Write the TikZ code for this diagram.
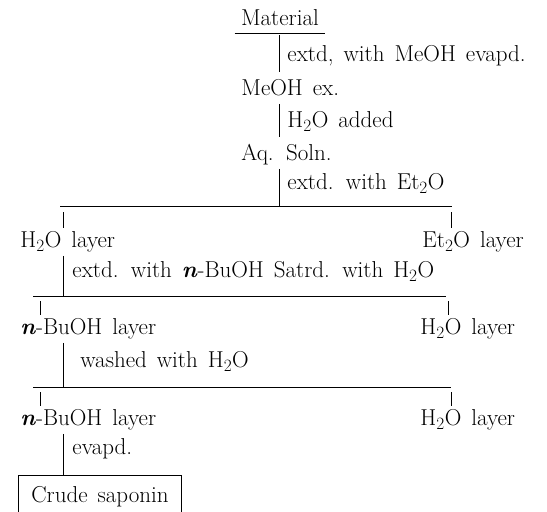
\documentclass[tikz,border=0pt]{standalone}
\usepackage{fontspec}
\newcommand\flowfont{\fontsize{23}{27}\selectfont\addfontfeature{LetterSpace=6,FakeBold=0.5}\spaceskip=10pt plus 2pt\relax}
\begin{document}
\begin{tikzpicture}[x=1pt,y=-1pt]
  \tikzset{
      every node/.append style = {
          font = \flowfont,
          text height = 15pt,
          text depth = 4pt,
          inner xsep = 0pt,
          inner ysep = 4pt
      },
      every path/.append style = {
          line width = 0.9pt
      },
      proc/.style = {
          anchor = west
      },
      layer/.style = {
          anchor = west
      }
  }
  \useasboundingbox (0,0) rectangle (547,512);
  % stems and bars
  \coordinate (sa) at (279,0);
  \coordinate (sb) at (63,0);
  \coordinate (sc) at (451,0);
  \coordinate (sd) at (40,0);
  \coordinate (se) at (448,0);
  \coordinate (bot) at (0,512);
  \coordinate (bar1l) at (60,206);
  \coordinate (bar1r) at (452,206);
  \coordinate (bar2l) at (33,296);
  \coordinate (bar2r) at (446,296);
  \coordinate (bar3l) at (33,387);
  \coordinate (bar3r) at (451,387);
  % texts
  \node[inner xsep = 6pt, inner ysep = 3.5pt] (mat) at (280,20) {Material};
  \node[proc] (p1) at (287,56) {extd, with MeOH evapd.};
  \node[layer] (meoh) at (241,90) {MeOH ex.};
  \node[proc] (p2) at (287,122) {H$_2$O added};
  \node[layer] (aq) at (241,155) {Aq. Soln.};
  \node[proc] (p3) at (287,184) {extd. with Et$_2$O};
  \node[layer] (wa) at (20,242) {H$_2$O layer};
  \node[layer] (et) at (422,242) {Et$_2$O layer};
  \node[proc] (p4) at (72,272) {extd. with \textbf{\textit{n}}-BuOH Satrd. with H$_2$O};
  \node[layer] (bu) at (20,329) {\textbf{\textit{n}}-BuOH layer};
  \node[layer] (wb) at (420,329) {H$_2$O layer};
  \node[proc] (p5) at (80,362) {washed with H$_2$O};
  \node[layer] (bub) at (20,420) {\textbf{\textit{n}}-BuOH layer};
  \node[layer] (wc) at (420,420) {H$_2$O layer};
  \node[proc] (p6) at (72,449) {evapd.};
  \node[inner xsep = 12pt, inner ysep = 11.5pt] (crude) at (100,497) {Crude saponin};
  % lines
  \draw (mat.south west) -- (mat.south east);
  \draw ([yshift=-2pt]mat.south -| sa) -- ([yshift=4pt]meoh.north -| sa);
  \draw (meoh.south -| sa) -- ([yshift=4pt]aq.north -| sa);
  \draw (aq.south -| sa) -- (bar1l -| sa);
  \draw (bar1l) -- (bar1r);
  \draw ([yshift=-6pt]bar1l -| sb) -- (wa.north -| sb);
  \draw ([yshift=-6pt]bar1r -| sc) -- (et.north -| sc);
  \draw (wa.south -| sb) -- (bar2l -| sb);
  \draw (bar2l) -- (bar2r);
  \draw ([yshift=-5pt]bar2l -| sd) -- (bu.north -| sd);
  \draw ([yshift=-5pt]bar2r -| se) -- (wb.north -| se);
  \draw (bu.south -| sb) -- (bar3l -| sb);
  \draw (bar3l) -- (bar3r);
  \draw ([yshift=-5pt]bar3l -| sd) -- (bub.north -| sd);
  \draw ([yshift=-5pt]bar3r -| sc) -- (wc.north -| sc);
  \draw (bub.south -| sb) -- (crude.north -| sb);
  \draw (crude.north west |- bot) -- (crude.north west) -- (crude.north east) -- (crude.north east |- bot);
\end{tikzpicture}
\end{document}
